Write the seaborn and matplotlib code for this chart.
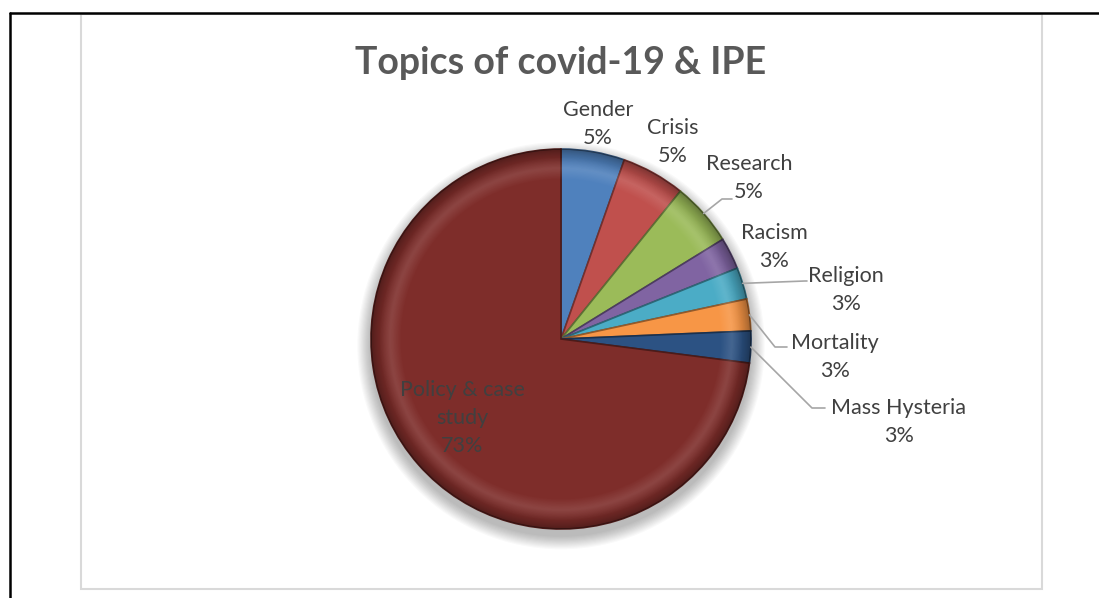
import numpy as np
import matplotlib
matplotlib.use("Agg")
import matplotlib.pyplot as plt
import seaborn as sns
from matplotlib.patches import Circle, Rectangle
from matplotlib.lines import Line2D

# ---- data ----
categories = ["Gender", "Crisis", "Research", "Racism", "Religion",
              "Mortality", "Mass Hysteria", "Policy & case\nstudy"]
counts = [2, 2, 2, 1, 1, 1, 1, 27]
slice_colors = ["#4F81BD", "#C0504D", "#9BBB59", "#8064A2", "#4BACC6",
                "#F79646", "#2C5283", "#7E2D2A"]
title = "Topics of covid-19 & IPE"

# ---- layout (pixel positions of label centres) ----
label_px = [(598, 124), (673, 142), (749, 178), (774, 247), (846, 290),
            (835, 357), (899, 422), (462, 418)]
leader_knee = [None, None, (722, 199), None, (805, 281), (775, 347), (812, 408), None]
leader_end = [None, None, (732, 199), None, (807, 281), (787, 347), (825, 408), None]

W, H = 1099, 598
CX, CY, R = 561, 339, 190
HALF = 228

sns.set_theme(style="white")
plt.rcParams['font.family'] = ['Lato', 'DejaVu Sans']

fig = plt.figure(figsize=(W / 100, H / 100), dpi=100)
fig.patch.set_facecolor("white")

ax = fig.add_axes([(CX - HALF) / W, (H - CY - HALF) / H, 2 * HALF / W, 2 * HALF / H])


def px2d(px, py):
    return (px - CX) / R, (CY - py) / R


# soft shadow under the pie
for i in range(12):
    ax.add_patch(Circle((0.0, -0.035), 1.0 + 0.006 * (12 - i), color="black",
                        alpha=0.025, lw=0, zorder=0))

palette = sns.color_palette(slice_colors)
wedges, _ = ax.pie(counts, colors=palette, startangle=90, counterclock=False,
                   radius=1.0, wedgeprops=dict(linewidth=0))
for w, c in zip(wedges, palette):
    w.set_zorder(2)
    dark = tuple(max(0, v * 0.6) for v in c)
    w.set_edgecolor(dark)
    w.set_linewidth(1.2)

L = HALF / R
ax.set_xlim(-L, L)
ax.set_ylim(-L, L)
ax.set_aspect("equal")
ax.axis("off")

# bevel-like shading: darker rim, lighter inner
n = 600
xs = np.linspace(-1, 1, n)
X, Y = np.meshgrid(xs, xs)
Rr = np.sqrt(X ** 2 + Y ** 2)
alpha = np.clip((Rr - 0.88) / 0.12, 0, 1) ** 2 * 0.35
img = np.zeros((n, n, 4))
img[..., 3] = alpha
im = ax.imshow(img, extent=(-1, 1, -1, 1), origin="lower", zorder=3, interpolation="bilinear")
im.set_clip_path(Circle((0, 0), 1.0, transform=ax.transData))

hl = np.zeros((n, n, 4))
hl[..., :3] = 1.0
hl[..., 3] = np.clip(1 - np.abs(Rr - 0.9) / 0.06, 0, 1) * 0.12
im2 = ax.imshow(hl, extent=(-1, 1, -1, 1), origin="lower", zorder=3, interpolation="bilinear")
im2.set_clip_path(Circle((0, 0), 1.0, transform=ax.transData))
ax.set_xlim(-L, L)
ax.set_ylim(-L, L)

total = sum(counts)
text_color = "#404040"
for i, (w, name, cnt) in enumerate(zip(wedges, categories, counts)):
    pct = f"{round(100 * cnt / total)}%"
    lx, ly = px2d(*label_px[i])
    ax.text(lx, ly, f"{name}\n{pct}", ha="center", va="center", fontsize=15.5,
            color=text_color, linespacing=1.5, zorder=5, clip_on=False)
    if leader_knee[i] is not None:
        mid = np.deg2rad((w.theta1 + w.theta2) / 2)
        sx, sy = np.cos(mid), np.sin(mid)
        kx, ky = px2d(*leader_knee[i])
        ex, ey = px2d(*leader_end[i])
        ax.plot([sx, kx, ex], [sy, ky, ey], color="#A6A6A6", lw=1.2, zorder=4,
                clip_on=False)

fig.text(CX / W, 1 - 63 / H, title, ha="center", va="center", fontsize=27,
         fontweight="bold", color="#595959")

# inner chart-area border
fig.add_artist(Rectangle((81 / W, (H - 589) / H), (1042 - 81) / W, (589 - 14) / H,
                         transform=fig.transFigure, fill=False, edgecolor="#D9D9D9",
                         linewidth=1.5))
# outer black frame lines
fig.add_artist(Line2D([10 / W, 1.0], [1 - 13 / H, 1 - 13 / H], transform=fig.transFigure,
                      color="black", lw=1.8))
fig.add_artist(Line2D([10 / W, 10 / W], [1 - 13 / H, 0.0], transform=fig.transFigure,
                      color="black", lw=1.8))

fig.savefig("out.png", dpi=100, facecolor="white")
